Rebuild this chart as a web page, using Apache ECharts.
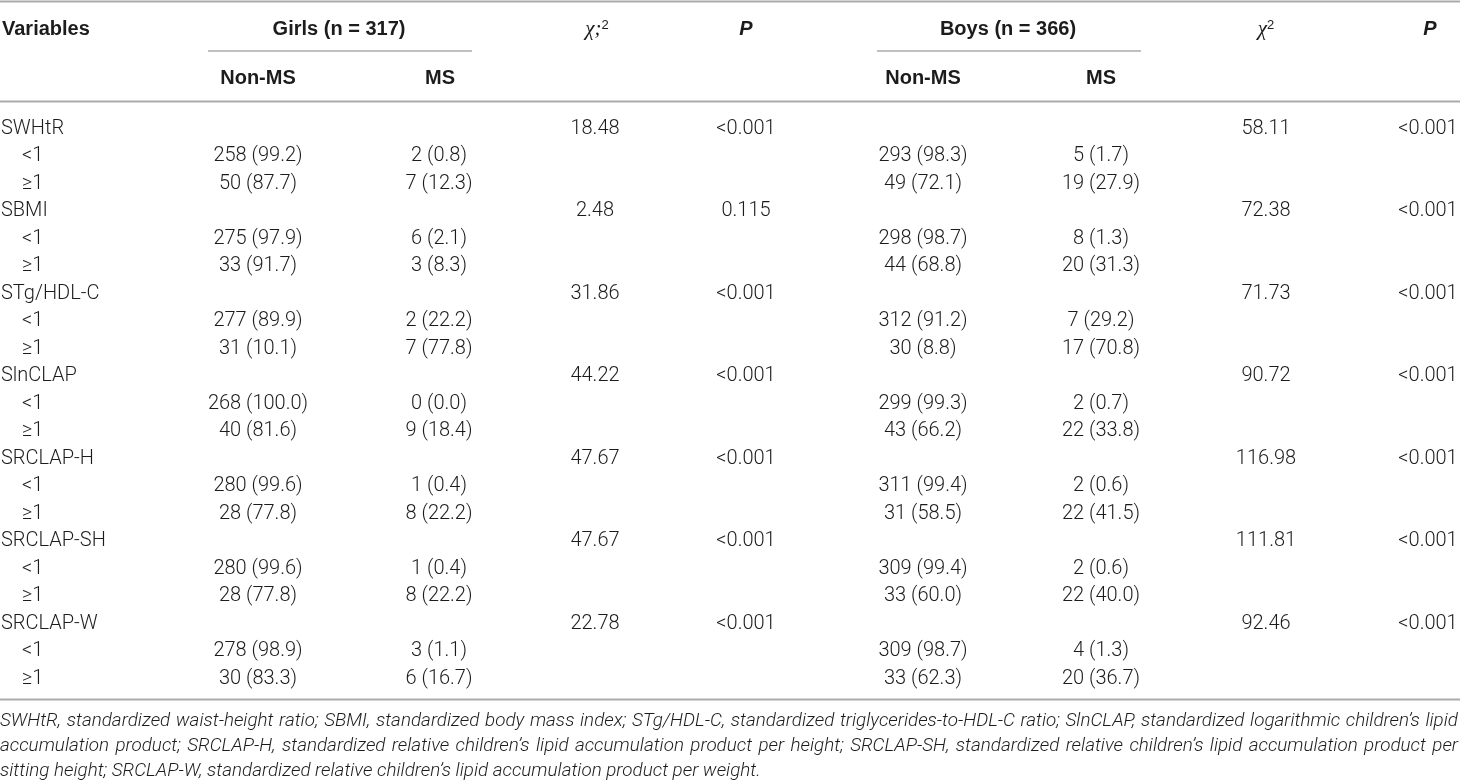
<!DOCTYPE html>
<html>
<head>
<meta charset="utf-8">
<script src="https://cdn.jsdelivr.net/npm/echarts@6/dist/echarts.min.js"></script>
<style>
html,body{margin:0;padding:0;background:#fff;}
#chart{width:1460px;height:782px;}
</style>
</head>
<body>
<div id="chart"></div>
<script>
// ---------------- DATA ----------------
const variables = ['SWHtR', 'SBMI', 'STg/HDL-C', 'SlnCLAP', 'SRCLAP-H', 'SRCLAP-SH', 'SRCLAP-W'];
const levels = ['<1', '≥1'];

const girlsNonMSn   = [258, 50, 275, 33, 277, 31, 268, 40, 280, 28, 280, 28, 278, 30];
const girlsNonMSpct = ['99.2', '87.7', '97.9', '91.7', '89.9', '10.1', '100.0', '81.6', '99.6', '77.8', '99.6', '77.8', '98.9', '83.3'];
const girlsMSn      = [2, 7, 6, 3, 2, 7, 0, 9, 1, 8, 1, 8, 3, 6];
const girlsMSpct    = ['0.8', '12.3', '2.1', '8.3', '22.2', '77.8', '0.0', '18.4', '0.4', '22.2', '0.4', '22.2', '1.1', '16.7'];
const girlsChi      = ['18.48', '2.48', '31.86', '44.22', '47.67', '47.67', '22.78'];
const girlsP        = ['<0.001', '0.115', '<0.001', '<0.001', '<0.001', '<0.001', '<0.001'];

const boysNonMSn    = [293, 49, 298, 44, 312, 30, 299, 43, 311, 31, 309, 33, 309, 33];
const boysNonMSpct  = ['98.3', '72.1', '98.7', '68.8', '91.2', '8.8', '99.3', '66.2', '99.4', '58.5', '99.4', '60.0', '98.7', '62.3'];
const boysMSn       = [5, 19, 8, 20, 7, 17, 2, 22, 2, 22, 2, 22, 4, 20];
const boysMSpct     = ['1.7', '27.9', '1.3', '31.3', '29.2', '70.8', '0.7', '33.8', '0.6', '41.5', '0.6', '40.0', '1.3', '36.7'];
const boysChi       = ['58.11', '72.38', '71.73', '90.72', '116.98', '111.81', '92.46'];
const boysP         = ['<0.001', '<0.001', '<0.001', '<0.001', '<0.001', '<0.001', '<0.001'];

const headerTop = ['Variables', 'Girls (n = 317)', 'χ;', 'P', 'Boys (n = 366)', 'χ', 'P'];
const headerSub = ['Non-MS', 'MS', 'Non-MS', 'MS'];

const footnoteLines = [
  "SWHtR, standardized waist-height ratio; SBMI, standardized body mass index; STg/HDL-C, standardized triglycerides-to-HDL-C ratio; SlnCLAP, standardized logarithmic children’s lipid",
  "accumulation product; SRCLAP-H, standardized relative children’s lipid accumulation product per height; SRCLAP-SH, standardized relative children’s lipid accumulation product per",
  "sitting height; SRCLAP-W, standardized relative children’s lipid accumulation product per weight."
];

// ---------------- LAYOUT / STYLE ----------------
const W = 1460;
const TEXT = '#1c1c1c';
const LINE = '#ababab';
const BODY_FONT = "300 20px Roboto, 'Liberation Sans', sans-serif";
const BOLD_FONT = "bold 20px 'Liberation Sans', Arial, sans-serif";
const colX = {label: 1, level: 22, gNon: 258, gMS: 439, gChi: 595, gP: 746, bNon: 923, bMS: 1101, bChi: 1266, bP: 1428};
const rowTop = 128.5, rowStep = 27.5;

// ---------------- BUILD ROWS ----------------
const rowKeys = [];
const cells = {label: [], gNon: [], gMS: [], gChi: [], gP: [], bNon: [], bMS: [], bChi: [], bP: []};
variables.forEach((v, vi) => {
  rowKeys.push(v);
  cells.label.push({t: v, x: colX.label});
  cells.gChi.push(girlsChi[vi]); cells.gP.push(girlsP[vi]);
  cells.bChi.push(boysChi[vi]); cells.bP.push(boysP[vi]);
  cells.gNon.push(''); cells.gMS.push(''); cells.bNon.push(''); cells.bMS.push('');
  levels.forEach((l, li) => {
    const k = vi * 2 + li;
    rowKeys.push(v + ' ' + l);
    cells.label.push({t: l, x: colX.level});
    cells.gChi.push(''); cells.gP.push(''); cells.bChi.push(''); cells.bP.push('');
    cells.gNon.push(girlsNonMSn[k] + ' (' + girlsNonMSpct[k] + ')');
    cells.gMS.push(girlsMSn[k] + ' (' + girlsMSpct[k] + ')');
    cells.bNon.push(boysNonMSn[k] + ' (' + boysNonMSpct[k] + ')');
    cells.bMS.push(boysMSn[k] + ' (' + boysMSpct[k] + ')');
  });
});

function textSeries(name, texts, x, align) {
  const data = [];
  const labels = [];
  texts.forEach((t, i) => {
    const s = typeof t === 'string' ? t : t.t;
    const xx = typeof t === 'string' ? x : t.x;
    if (s !== '') { data.push([xx, i]); labels.push(s); }
  });
  return {
    type: 'custom', name: name, data: data, silent: true,
    encode: {x: 0, y: 1},
    renderItem: function (params, api) {
      const p = api.coord([api.value(0), api.value(1)]);
      return {type: 'text', x: p[0], y: p[1],
        style: {text: labels[params.dataIndex], fill: TEXT, font: BODY_FONT, align: align, verticalAlign: 'middle'}};
    }
  };
}

const series = [
  textSeries('label', cells.label, 0, 'left'),
  textSeries('gNon', cells.gNon, colX.gNon, 'center'),
  textSeries('gMS', cells.gMS, colX.gMS, 'center'),
  textSeries('gChi', cells.gChi, colX.gChi, 'center'),
  textSeries('gP', cells.gP, colX.gP, 'center'),
  textSeries('bNon', cells.bNon, colX.bNon, 'center'),
  textSeries('bMS', cells.bMS, colX.bMS, 'center'),
  textSeries('bChi', cells.bChi, colX.bChi, 'center'),
  textSeries('bP', cells.bP, colX.bP, 'center')
];

// ---------------- GRAPHIC (headers, rules, footnote) ----------------
function hline(x1, x2, y, w) {
  return {type: 'line', shape: {x1: x1, y1: y, x2: x2, y2: y}, style: {stroke: LINE, lineWidth: w}, silent: true};
}
function htext(t, x, y, align, font) {
  return {type: 'text', x: x, y: y, silent: true, style: {text: t, fill: TEXT, font: font || BOLD_FONT, align: align, verticalAlign: 'middle'}};
}
function chiText(t, x, y) {
  return {type: 'text', x: x, y: y, silent: true, style: {
    text: '{c|' + t + '}{s|2}', align: 'center', verticalAlign: 'middle',
    rich: {c: {fill: TEXT, font: "italic 21px 'Liberation Serif', serif"},
           s: {fill: TEXT, font: "13px 'Liberation Sans', sans-serif", verticalAlign: 'top', padding: [0, 0, 8, 0]}}}};
}
const yTop = 29, ySub = 78;
const graphics = [
  hline(0, W, 1.5, 2),
  hline(208, 472, 51, 1.5),
  hline(877, 1141, 51, 1.5),
  hline(0, W, 101.5, 2),
  hline(0, W, 699.5, 2),
  htext(headerTop[0], 2, yTop, 'left'),
  htext(headerTop[1], 339, yTop, 'center'),
  chiText(headerTop[2], 597, yTop),
  htext(headerTop[3], 746, yTop, 'center', "italic bold 20px 'Liberation Sans', Arial, sans-serif"),
  htext(headerTop[4], 1008, yTop, 'center'),
  chiText(headerTop[5], 1266, yTop),
  htext(headerTop[6], 1430, yTop, 'center', "italic bold 20px 'Liberation Sans', Arial, sans-serif"),
  htext(headerSub[0], 258, ySub, 'center'),
  htext(headerSub[1], 440, ySub, 'center'),
  htext(headerSub[2], 923, ySub, 'center'),
  htext(headerSub[3], 1101, ySub, 'center')
];

// footnote: font sized so the first line fills the width with near-normal spacing; justified
const ctx = document.createElement('canvas').getContext('2d');
const FN_FAM = "Roboto, 'Liberation Sans', sans-serif";
ctx.font = 'italic 300 18px ' + FN_FAM;
const fnSize = 18 * 1440 / ctx.measureText(footnoteLines[0]).width;
const FN_FONT = 'italic 300 ' + fnSize.toFixed(2) + 'px ' + FN_FAM;
ctx.font = FN_FONT;
const fnY = [721, 746, 771];
footnoteLines.forEach((line, li) => {
  if (li === footnoteLines.length - 1) {
    graphics.push(htext(line, 0, fnY[li], 'left', FN_FONT));
    return;
  }
  const words = line.split(' ');
  const widths = words.map(w => ctx.measureText(w).width);
  const total = widths.reduce((a, b) => a + b, 0);
  const gap = (1458 - total) / (words.length - 1);
  let x = 0;
  words.forEach((w, wi) => {
    graphics.push(htext(w, x, fnY[li], 'left', FN_FONT));
    x += widths[wi] + gap;
  });
});

// ---------------- CHART ----------------
const chart = echarts.init(document.getElementById('chart'), null, {renderer: 'canvas'});
chart.setOption({
  animation: false,
  backgroundColor: '#ffffff',
  grid: {left: 0, right: 0, top: rowTop - rowStep / 2, height: rowStep * rowKeys.length, containLabel: false},
  xAxis: {type: 'value', min: 0, max: W, show: false},
  yAxis: {type: 'category', data: rowKeys, inverse: true, show: false},
  tooltip: {show: false},
  series: series,
  graphic: graphics
});
</script>
</body>
</html>
